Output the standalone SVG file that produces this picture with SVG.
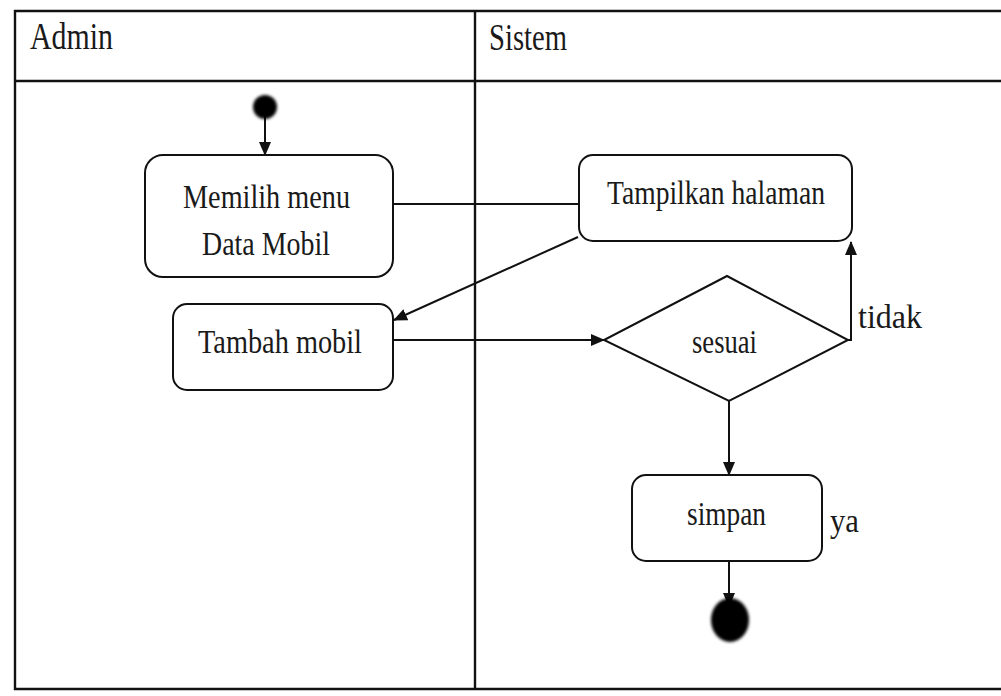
<svg xmlns="http://www.w3.org/2000/svg" width="1001" height="696" viewBox="0 0 1001 696">
  <style>
    .lane { fill: none; stroke: #111; stroke-width: 2.4; }
    .box { fill: #fff; stroke: #111; stroke-width: 2; }
    .flow { fill: none; stroke: #111; stroke-width: 2; }
    .lbl { font-family: "Liberation Serif", "Times New Roman", serif; fill: #1a1a1a; }
    .head { font-size: 37px; }
    .txt { font-size: 34px; }
  </style>
  <defs>
    <marker id="arrow" viewBox="0 0 14 14" refX="13" refY="7" markerWidth="14" markerHeight="14" markerUnits="userSpaceOnUse" orient="auto">
      <path d="M0,1 L14,7 L0,13 Z" fill="#111"/>
    </marker>
    <filter id="soft" x="-50%" y="-50%" width="200%" height="200%">
      <feGaussianBlur stdDeviation="1.6"/>
    </filter>
  </defs>

  <rect width="1001" height="696" fill="#fff"/>

  <!-- swimlane frame -->
  <g id="lanes">
    <path class="lane" d="M1001,11 H15 V689 H1001"/>
    <line class="lane" x1="15" y1="81" x2="1001" y2="81"/>
    <line class="lane" x1="475" y1="11" x2="475" y2="689"/>
    <text class="lbl head" x="30" y="49" textLength="83" lengthAdjust="spacingAndGlyphs">Admin</text>
    <text class="lbl head" x="489" y="50" textLength="78" lengthAdjust="spacingAndGlyphs">Sistem</text>
  </g>

  <!-- connectors -->
  <g id="connectors">
    <line class="flow" x1="265" y1="115" x2="265" y2="155" marker-end="url(#arrow)"/>
    <line class="flow" x1="393" y1="204" x2="579" y2="204"/>
    <line class="flow" x1="578" y1="237" x2="394" y2="320" marker-end="url(#arrow)"/>
    <line class="flow" x1="393" y1="340" x2="604" y2="340" marker-end="url(#arrow)"/>
    <polyline class="flow" points="847,340 851,340 851,242" marker-end="url(#arrow)"/>
    <line class="flow" x1="729" y1="400" x2="729" y2="475" marker-end="url(#arrow)"/>
    <line class="flow" x1="729" y1="561" x2="729" y2="606" marker-end="url(#arrow)"/>
  </g>

  <g id="start">
    <circle cx="265" cy="107" r="12" fill="#000" filter="url(#soft)"/>
  </g>

  <g id="memilih-menu">
    <rect class="box" x="145" y="155" width="248" height="122" rx="18"/>
    <text class="lbl txt" x="183" y="208" textLength="167" lengthAdjust="spacingAndGlyphs">Memilih menu</text>
    <text class="lbl txt" x="202" y="255" textLength="128" lengthAdjust="spacingAndGlyphs">Data Mobil</text>
  </g>

  <g id="tambah-mobil">
    <rect class="box" x="173" y="304" width="220" height="86" rx="14"/>
    <text class="lbl txt" x="198" y="353" textLength="164" lengthAdjust="spacingAndGlyphs">Tambah mobil</text>
  </g>

  <g id="tampilkan-halaman">
    <rect class="box" x="579" y="155" width="273" height="86" rx="14"/>
    <text class="lbl txt" x="607" y="204" textLength="218" lengthAdjust="spacingAndGlyphs">Tampilkan halaman</text>
  </g>

  <g id="sesuai">
    <polygon class="box" points="727,276 848,340 729,401 604,340"/>
    <text class="lbl txt" x="692" y="353" textLength="65" lengthAdjust="spacingAndGlyphs">sesuai</text>
  </g>

  <g id="guard-labels">
    <text class="lbl txt" x="858" y="328" textLength="64" lengthAdjust="spacingAndGlyphs">tidak</text>
    <text class="lbl txt" x="830" y="532" textLength="29" lengthAdjust="spacingAndGlyphs">ya</text>
  </g>

  <g id="simpan">
    <rect class="box" x="632" y="475" width="190" height="86" rx="14"/>
    <text class="lbl txt" x="687" y="525" textLength="79" lengthAdjust="spacingAndGlyphs">simpan</text>
  </g>

  <g id="end">
    <ellipse cx="730" cy="620" rx="19" ry="22" fill="#000" filter="url(#soft)"/>
  </g>
</svg>
